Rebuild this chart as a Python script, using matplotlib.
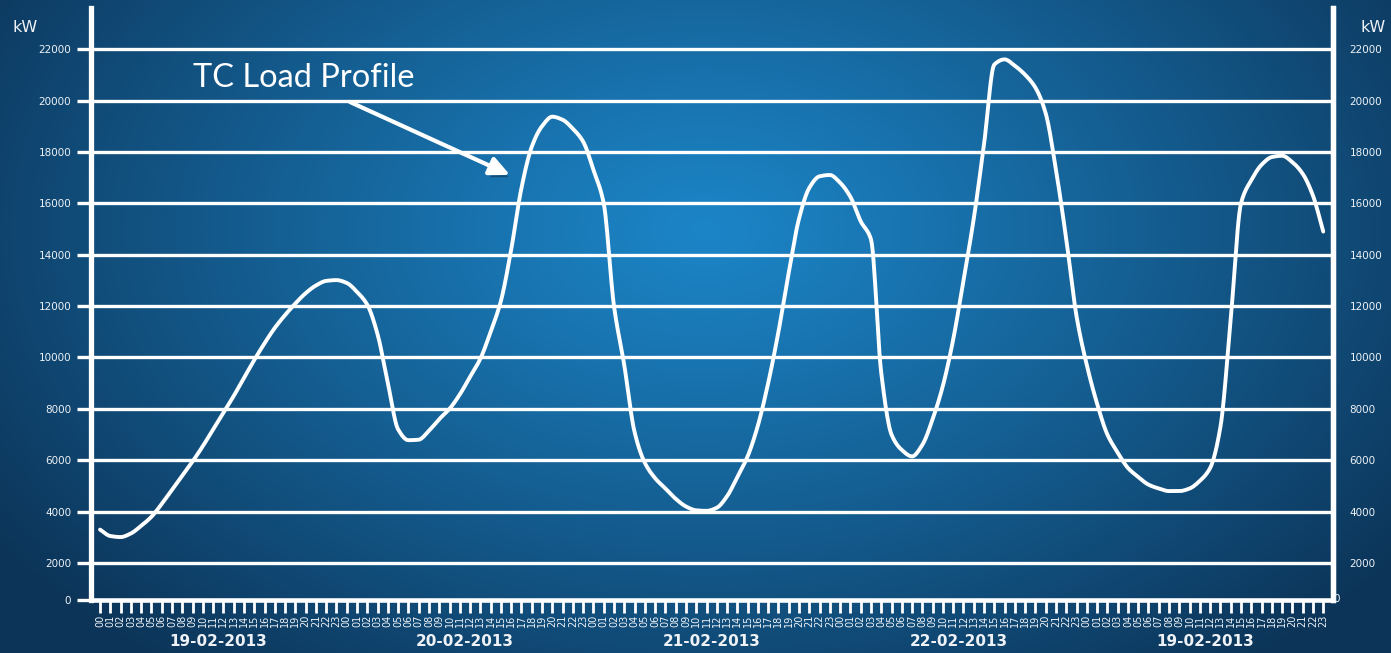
import numpy as np
import matplotlib
matplotlib.use("Agg")
import matplotlib.pyplot as plt
import matplotlib.patheffects as pe
from matplotlib.transforms import blended_transform_factory

# ---------------- data ----------------
hour_labels = [f"{h:02d}" for h in range(24)] * 5
day_labels = ["19-02-2013", "20-02-2013", "21-02-2013", "22-02-2013", "19-02-2013"]
hours = list(range(len(hour_labels)))

load_kw = [
    3300, 3050, 3010, 3150, 3450, 3800, 4300, 4850, 5400, 5950,
    6550, 7200, 7850, 8500, 9200, 9900, 10550, 11150, 11650, 12100,
    12500, 12800, 12980, 13010, 12900, 12550, 12050, 10900, 9000, 7200,
    6780, 6800, 7150, 7600, 8000, 8560, 9250, 9950, 11000, 12200,
    14200, 16600, 18200, 19000, 19370, 19250, 18900, 18400, 17300, 16000,
    12000, 9700, 7100, 5900, 5300, 4900, 4500, 4200, 4050, 4030,
    4150, 4600, 5350, 6150, 7350, 9000, 11000, 13300, 15400, 16600,
    17050, 17100, 16800, 16250, 15300, 14600, 9400, 7000, 6400, 6150,
    6600, 7600, 8900, 10700, 13000, 15400, 18300, 21400, 21600, 21350,
    21000, 20500, 19500, 17300, 14600, 11600, 9700, 8200, 7000, 6300,
    5700, 5350, 5050, 4900, 4800, 4800, 4900, 5200, 5700, 7300,
    11500, 16000, 16900, 17500, 17800, 17850, 17600, 17150, 16300, 14900,
]

y_ticks = [2000, 4000, 6000, 8000, 10000, 12000, 14000, 16000, 18000, 20000, 22000]
y_tick_labels = [str(v) for v in y_ticks]
y_floor = 580          # axis floor, labelled "0"
y_top = 23600
unit_label = "kW"
annotation_text = "TC Load Profile"


def pchip_path(x, y, n=12):
    """Smooth monotone cubic rendering through the given points (drawing only)."""
    x = np.asarray(x, float)
    y = np.asarray(y, float)
    h = np.diff(x)
    d = np.diff(y) / h
    m = np.zeros_like(y)
    for i in range(1, len(y) - 1):
        if d[i - 1] * d[i] > 0:
            w1 = 2 * h[i] + h[i - 1]
            w2 = h[i] + 2 * h[i - 1]
            m[i] = (w1 + w2) / (w1 / d[i - 1] + w2 / d[i])
    m[0] = d[0]
    m[-1] = d[-1]
    xs, ys = [], []
    for i in range(len(x) - 1):
        t = np.linspace(0, 1, n, endpoint=False)
        h00 = 2 * t**3 - 3 * t**2 + 1
        h10 = t**3 - 2 * t**2 + t
        h01 = -2 * t**3 + 3 * t**2
        h11 = t**3 - t**2
        xs.append(x[i] + t * h[i])
        ys.append(h00 * y[i] + h10 * h[i] * m[i] + h01 * y[i + 1] + h11 * h[i] * m[i + 1])
    xs.append([x[-1]])
    ys.append([y[-1]])
    return np.concatenate(xs), np.concatenate(ys)


# ---------------- figure ----------------
W, H = 1391, 653
fig = plt.figure(figsize=(W / 100, H / 100), dpi=100)

# radial blue background
bg = fig.add_axes([0, 0, 1, 1], zorder=-10)
yy, xx = np.mgrid[0:H, 0:W]
r = np.sqrt(((xx - 705) / 860.0) ** 2 + ((yy - 230) / 560.0) ** 2)
t = np.clip(r, 0, 1) ** 1.1
c0 = np.array([28, 133, 199]) / 255.0
c1 = np.array([12, 52, 88]) / 255.0
img = c0[None, None, :] * (1 - t[..., None]) + c1[None, None, :] * t[..., None]
bg.imshow(img, extent=[0, 1, 0, 1], aspect="auto", origin="upper")
bg.axis("off")

ax = fig.add_axes([91 / W, 1 - 599.5 / H, (1333 - 91) / W, (599.5 - 8) / H])
ax.patch.set_visible(False)
ax.set_xlim(-0.88, 119.95)
ax.set_ylim(y_floor, y_top)

white = "white"
txtc = "#eef2f6"

# grid lines
for v in y_ticks:
    ax.axhline(v, color=white, lw=2.4, zorder=1)

sx, sy = pchip_path(hours, load_kw)
ax.plot(sx, sy, color=white, lw=2.8, solid_joinstyle="round",
        solid_capstyle="round", zorder=3)

# spines
ax.spines["top"].set_visible(False)
for s in ["left", "right"]:
    ax.spines[s].set_color(white)
    ax.spines[s].set_linewidth(3.8)
ax.spines["bottom"].set_color(white)
ax.spines["bottom"].set_linewidth(3.3)

# x ticks
ax.set_xticks(hours)
ax.set_xticklabels(hour_labels, rotation=90, fontsize=7, color=txtc)
ax.tick_params(axis="x", direction="out", length=9, width=2, color=white, pad=2)

# left y ticks
ax.set_yticks([y_floor] + y_ticks)
ax.set_yticklabels(["0"] + y_tick_labels, fontsize=7.5, color=txtc)
ax.tick_params(axis="y", direction="out", length=10, width=2.4, color=white, pad=4.3)

# right y ticks
ax2 = ax.twinx()
ax2.set_ylim(y_floor, y_top)
ax2.patch.set_visible(False)
for s in ["top", "left", "bottom"]:
    ax2.spines[s].set_visible(False)
ax2.spines["right"].set_color(white)
ax2.spines["right"].set_linewidth(3.8)
ax2.set_yticks(y_ticks)
ax2.set_yticklabels(y_tick_labels, fontsize=7.5, color=txtc)
ax2.tick_params(axis="y", length=0, pad=12)
ax2.text(1.0, y_floor, "0", transform=blended_transform_factory(ax2.transAxes, ax2.transData),
         ha="left", va="center", fontsize=7.5, color=txtc)

# day labels
xt = blended_transform_factory(ax.transData, ax.transAxes)
for k, lab in enumerate(day_labels):
    centre = np.mean(hours[k * 24:(k + 1) * 24])
    ax.annotate(lab, xy=(centre, 0), xycoords=xt, xytext=(0, -30),
                textcoords="offset points", ha="center", va="center",
                fontsize=11, fontweight="bold", color=txtc, annotation_clip=False)

# unit labels
fig.text(13 / W, 1 - 28 / H, unit_label, ha="left", va="center", fontsize=11.5, color=txtc)
fig.text(1360 / W, 1 - 28 / H, unit_label, ha="left", va="center", fontsize=11.5, color=txtc)

# annotation text + arrow
fig.text(193 / W, 1 - 87 / H, annotation_text, ha="left", va="baseline",
         fontsize=23.5, color=white, family="Lato")
fig.patches.append(matplotlib.patches.FancyArrowPatch(
    posA=(350 / W, 1 - 102 / H), posB=(510 / W, 1 - 175 / H),
    transform=fig.transFigure, arrowstyle="-|>,head_length=0.6,head_width=0.28",
    mutation_scale=20, lw=3.0, color=white, shrinkA=0, shrinkB=0,
    path_effects=[pe.SimplePatchShadow(offset=(2, -3), shadow_rgbFace="#0a2a45", alpha=0.5),
                  pe.Normal()]))

fig.savefig("out.png", dpi=100)
